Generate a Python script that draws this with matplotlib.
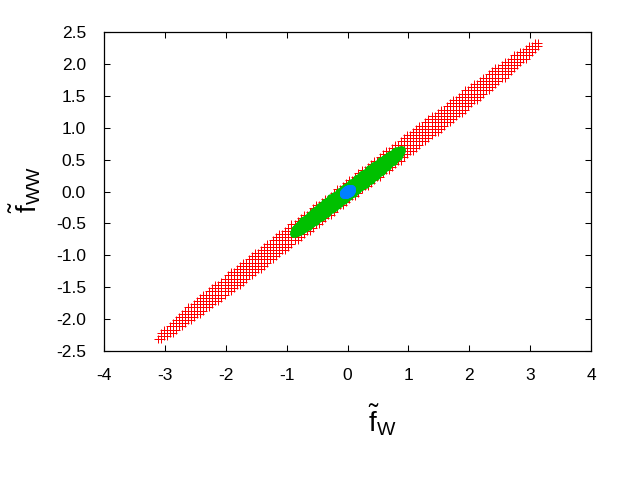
import numpy as np
import matplotlib
matplotlib.use("Agg")
import matplotlib.pyplot as plt

plt.rcParams['font.family'] = ['Liberation Sans', 'DejaVu Sans']
plt.rcParams['mathtext.fontset'] = 'custom'
plt.rcParams['mathtext.rm'] = 'Liberation Sans'
plt.rcParams['mathtext.it'] = 'Liberation Sans:italic'

# Allowed regions (rounded bands):
# [x half-extent, slope of axis, vertical half-width at centre, grid step]
red_region = [3.17, 0.74, 0.17, 0.05]
green_region = [0.92, 0.72, 0.11, 0.02]
blue_region = [0.08, 0.40, 0.05, 0.006]
region_centre = [0.0, 0.0]

x_ticks = [-4, -3, -2, -1, 0, 1, 2, 3, 4]
y_ticks = [-2.5, -2.0, -1.5, -1.0, -0.5, 0.0, 0.5, 1.0, 1.5, 2.0, 2.5]
x_tick_labels = ['-4', '-3', '-2', '-1', '0', '1', '2', '3', '4']
y_tick_labels = ['-2.5', '-2.0', '-1.5', '-1.0', '-0.5', '0.0', '0.5', '1.0', '1.5', '2.0', '2.5']


def scan_points(region, power=4):
    ax_, s, by, step = region
    cx, cy = region_centre
    xs = np.arange(-ax_, ax_ + step / 2, step)
    ys = np.arange(-(abs(s) * ax_ + by), abs(s) * ax_ + by + step / 2, step)
    X, Y = np.meshgrid(xs, ys)
    inside = np.abs(X / ax_) ** power + ((Y - s * X) / by) ** 2 <= 1.0
    return X[inside] + cx, Y[inside] + cy


fig = plt.figure(figsize=(6.4, 4.8), dpi=100)
ax = fig.add_axes([104 / 640, 1 - 351 / 480, (591 - 104) / 640, (351 - 32) / 480])

rx, ry = scan_points(red_region)
gx, gy = scan_points(green_region)
bx, by_ = scan_points(blue_region, power=2)

ax.plot(rx, ry, linestyle='none', marker='+', markersize=5.5, markeredgewidth=0.72,
        color='#ff0000', antialiased=False)
ax.plot(gx, gy, linestyle='none', marker='o', markersize=4.6, markeredgewidth=0,
        color='#00c000')
ax.plot(bx, by_, linestyle='none', marker='o', markersize=4.6, markeredgewidth=0,
        color='#0080ff')

ax.set_xlim(-4, 4)
ax.set_ylim(-2.5, 2.5)
ax.set_xticks(x_ticks)
ax.set_xticklabels(x_tick_labels)
ax.set_yticks(y_ticks)
ax.set_yticklabels(y_tick_labels)
ax.tick_params(direction='in', length=4, width=0.75, top=True, right=True,
               labelsize=12.5, pad=12)
ax.tick_params(axis='y', pad=13)
for sp in ax.spines.values():
    sp.set_linewidth(0.9)

fig.text(382 / 640, 1 - 420 / 480, r'$\tilde{\mathrm{f}}_{\mathrm{W}}$', fontsize=20,
         ha='center', va='center')
fig.text(25 / 640, 1 - 190 / 480, r'$\tilde{\mathrm{f}}_{\mathrm{WW}}$', fontsize=20,
         ha='center', va='center', rotation=90)

fig.savefig('out.png', dpi=100)
